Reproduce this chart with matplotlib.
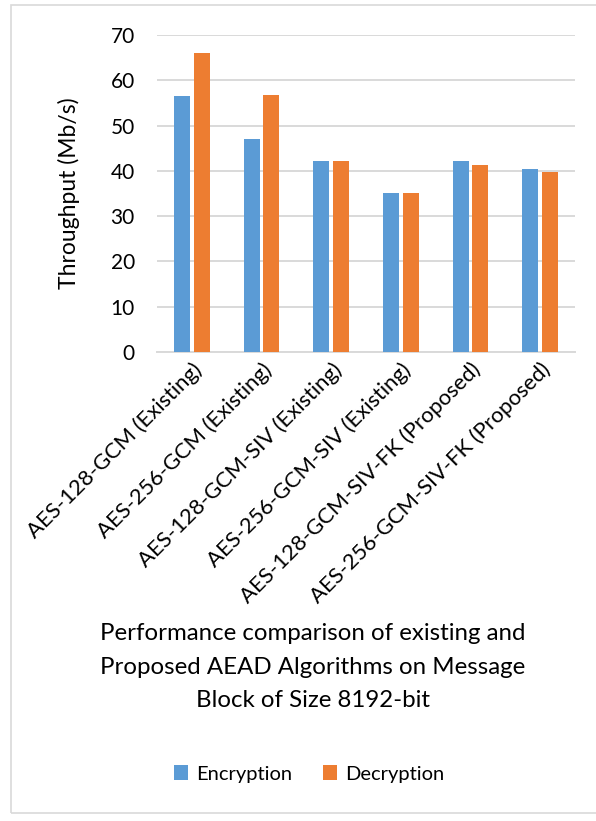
import matplotlib
matplotlib.use("Agg")
import matplotlib.pyplot as plt
import numpy as np
from matplotlib.patches import Rectangle

plt.rcParams['font.family'] = ['Lato', 'DejaVu Sans']

categories = [
    "AES-128-GCM (Existing)",
    "AES-256-GCM (Existing)",
    "AES-128-GCM-SIV (Existing)",
    "AES-256-GCM-SIV (Existing)",
    "AES-128-GCM-SIV-FK (Proposed)",
    "AES-256-GCM-SIV-FK (Proposed)",
]
encryption = [56.5, 47.0, 42.1, 35.2, 42.1, 40.3]
decryption = [66.0, 56.7, 42.1, 35.2, 41.2, 39.7]
series_names = ["Encryption", "Decryption"]
yticks = [0, 10, 20, 30, 40, 50, 60, 70]

blue = "#5B9BD5"
orange = "#ED7D31"
grid_col = "#D9D9D9"
text_col = "#000000"

W, H = 596, 821
fig = plt.figure(figsize=(W / 100, H / 100), dpi=100)

# outer chart frame
fig.patches.append(Rectangle((11 / W, 1 - 813 / H), 1.2, (813 - 5) / H,
                             transform=fig.transFigure, fill=False,
                             edgecolor="#D9D9D9", linewidth=1.2))

ax = fig.add_axes([157 / W, 1 - 352 / H, (575 - 157) / W, (352 - 35) / H])

x = np.arange(len(categories))
bw = 0.23
off = 0.143
ax.bar(x - off, encryption, bw, color=blue, label=series_names[0], zorder=3)
ax.bar(x + off, decryption, bw, color=orange, label=series_names[1], zorder=3)

ax.set_xlim(-0.5, len(categories) - 0.5)
ax.set_ylim(0, 70)
ax.set_yticks(yticks)
ax.set_yticklabels([str(t) for t in yticks], fontsize=15, color=text_col)
ax.tick_params(axis="y", length=0, pad=16)
ax.tick_params(axis="x", length=0, pad=5)
ax.yaxis.grid(True, color=grid_col, linewidth=1.4, zorder=0)
ax.set_axisbelow(True)
for s in ["top", "right", "left"]:
    ax.spines[s].set_visible(False)
ax.spines["bottom"].set_color(grid_col)
ax.spines["bottom"].set_linewidth(1.4)

ax.set_xticks(x)
ax.set_xticklabels(categories, rotation=45, ha="right", rotation_mode="anchor",
                   fontsize=15.8, color=text_col)

ax.set_ylabel("Throughput (Mb/s)", fontsize=16.5, color=text_col, labelpad=22)

fig.text(313 / W, 1 - 667 / H,
         "Performance comparison of existing and\n"
         "Proposed AEAD Algorithms on Message\n"
         "Block of Size 8192-bit",
         ha="center", va="center", fontsize=17.3, linespacing=1.76,
         color=text_col)

leg = fig.legend(loc="center", bbox_to_anchor=(309 / W, 1 - 774 / H),
                 ncol=2, frameon=False, fontsize=14.5, handlelength=0.7,
                 handleheight=0.7, handletextpad=0.4, columnspacing=1.5)

fig.savefig("out.png", dpi=100)
